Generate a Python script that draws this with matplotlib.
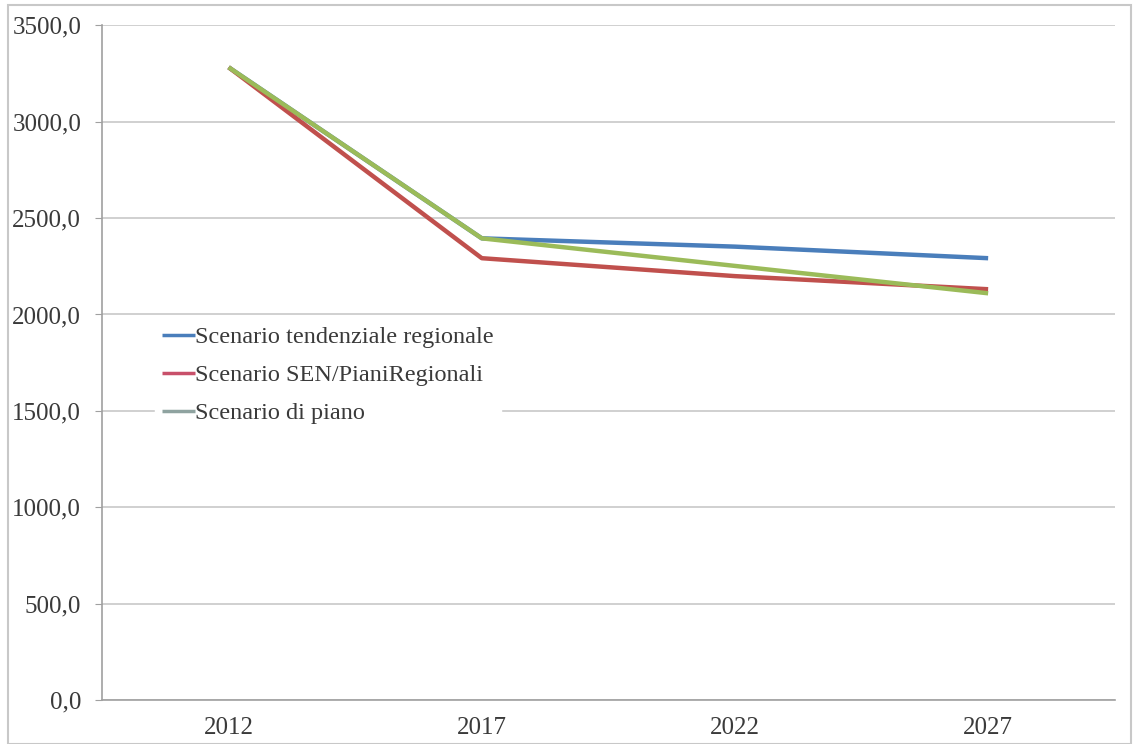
import matplotlib
matplotlib.use("Agg")
import matplotlib.pyplot as plt
from matplotlib.ticker import FuncFormatter, MultipleLocator
from matplotlib.patches import Rectangle

years = ["2012", "2017", "2022", "2027"]
tendenziale = [3282, 2395, 2352, 2292]
sen_piani = [3282, 2292, 2199, 2131]
piano = [3282, 2395, 2252, 2110]
labels = ["Scenario tendenziale regionale", "Scenario SEN/PianiRegionali", "Scenario di piano"]
colors = ["#4a7ebb", "#c0504d", "#9bbb59"]
legend_colors = ["#4a7ebb", "#c8506a", "#8fa3a0"]

plt.rcParams['font.family'] = ['Liberation Serif', 'DejaVu Serif']

fig = plt.figure(figsize=(11.34, 7.44), dpi=100)
ax = fig.add_axes([0.09, 0.059, 0.893, 0.907])

x = list(range(len(years)))
for vals, lab, col in zip([tendenziale, sen_piani, piano], labels, colors):
    ax.plot(x, vals, color=col, lw=3.2, label=lab, solid_capstyle='butt')

ax.set_xlim(-0.5, len(years) - 0.5)
ax.set_ylim(0, 3500)
ax.yaxis.set_major_locator(MultipleLocator(500))
ax.yaxis.set_major_formatter(FuncFormatter(lambda v, p: f"{v:.1f}".replace('.', ',')))
ax.set_xticks(x)
ax.set_xticklabels(years)
ax.grid(axis='y', color='#c8c8c8', lw=1.2)
ax.set_axisbelow(True)
for s in ['top', 'right']:
    ax.spines[s].set_visible(False)
for s in ['left', 'bottom']:
    ax.spines[s].set_color('#a0a0a0')
    ax.spines[s].set_linewidth(1.2)
ax.tick_params(axis='y', length=5, color='#a0a0a0', labelsize=18, pad=10, labelcolor='#3a3a3a')
ax.tick_params(axis='x', length=0, labelsize=18, pad=12, labelcolor='#3a3a3a')

leg = ax.legend(loc='upper left', bbox_to_anchor=(0.052, 0.565), frameon=True,
                fontsize=17.5, handlelength=1.35, handletextpad=0.0, labelspacing=0.66,
                borderpad=0.3, borderaxespad=0)
leg.get_frame().set_edgecolor('white')
leg.get_frame().set_facecolor('white')
leg.get_frame().set_alpha(1)
for t in leg.get_texts():
    t.set_color('#3a3a3a')
for h, c in zip(leg.get_lines(), legend_colors):
    h.set_color(c)
    h.set_linewidth(2.5)

fig.patches.append(Rectangle((0.007, 0.0), 0.99, 0.993, transform=fig.transFigure,
                             fill=False, edgecolor='#c8c8c8', lw=1.5))

fig.savefig("out.png", dpi=100)
